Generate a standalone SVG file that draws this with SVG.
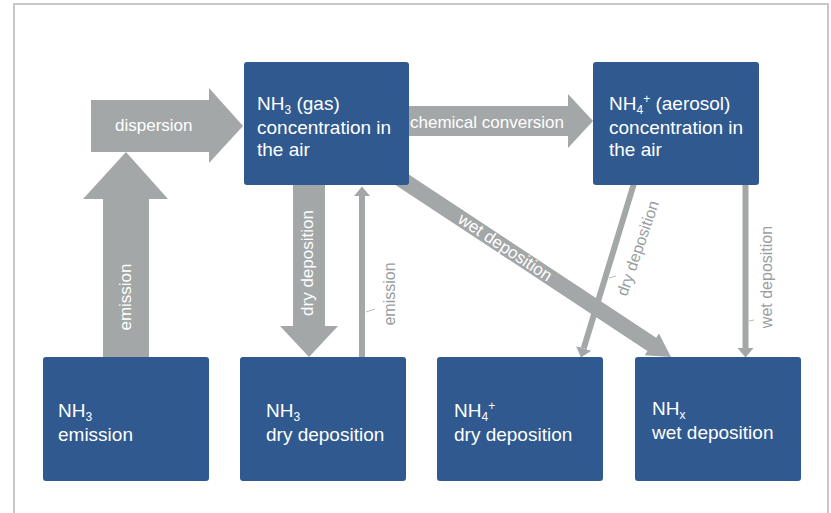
<svg xmlns="http://www.w3.org/2000/svg" width="831" height="513" viewBox="0 0 831 513">
  <style>
    .box { fill: #2f598f; }
    .boxtxt { font-family: "Liberation Sans", Arial, sans-serif; font-size: 19px; fill: #ffffff; }
    .sub { font-size: 12px; }
    .arr { fill: #a3a7a8; }
    .thin { stroke: #a3a7a8; stroke-width: 6; fill: none; }
    .tick { stroke: #b8bbbc; stroke-width: 1; fill: none; }
    .lbl { font-family: "Liberation Sans", Arial, sans-serif; font-size: 17px; fill: #ffffff; }
    .glbl { font-family: "Liberation Sans", Arial, sans-serif; font-size: 16px; fill: #9a9ea0; }
  </style>
  <defs>
    <marker id="head" markerUnits="userSpaceOnUse" markerWidth="12" markerHeight="18" refX="0" refY="8" orient="auto" viewBox="0 0 12 16">
      <path d="M0,0 L9.5,8 L0,16 Z" fill="#a3a7a8"/>
    </marker>
  </defs>
  <rect x="0" y="0" width="831" height="513" fill="#ffffff"/>
  <rect x="14" y="4" width="814" height="540" fill="none" stroke="#c8c8c8" stroke-width="2"/>

  <g id="connectors">
    <!-- dispersion -->
    <polygon class="arr" points="91,100 209,100 209,88 243,126 209,163 209,152 91,152"/>
    <text class="lbl" x="115" y="131">dispersion</text>
    <!-- big emission up -->
    <polygon class="arr" points="103,357 103,199 83,199 126,152 168,199 149,199 149,357"/>
    <text class="lbl" transform="translate(131,297) rotate(-90)" text-anchor="middle">emission</text>
    <!-- dry deposition thick down -->
    <polygon class="arr" points="293,180 325,180 325,326 338,326 309,357 280,326 293,326"/>
    <text class="lbl" font-size="16" transform="translate(313,263) rotate(-90)" text-anchor="middle">dry deposition</text>
    <!-- chemical conversion -->
    <polygon class="arr" points="405,106 568,106 568,94 593,121 568,148 568,136 405,136"/>
    <text class="lbl" x="410" y="128" font-size="17.5">chemical conversion</text>
    <!-- thin emission up -->
    <line class="thin" x1="362" y1="357" x2="362" y2="196" marker-end="url(#head)"/>
    <line class="tick" x1="366" y1="312" x2="375" y2="309"/>
    <text class="glbl" font-size="17" transform="translate(395,294) rotate(-90)" text-anchor="middle">emission</text>
    <!-- NH4 dry deposition diagonal thin -->
    <line class="thin" x1="635" y1="180" x2="583.7" y2="348.4" marker-end="url(#head)"/>
    <line class="tick" x1="609" y1="278" x2="616" y2="276"/>
    <text class="glbl" transform="translate(643,250) rotate(-71)" text-anchor="middle">dry deposition</text>
    <!-- NH4 wet deposition vertical thin -->
    <line class="thin" x1="745.5" y1="180" x2="745.5" y2="348" marker-end="url(#head)"/>
    <line class="tick" x1="749" y1="321" x2="754" y2="320"/>
    <text class="glbl" transform="translate(772,277) rotate(-90)" text-anchor="middle">wet deposition</text>
    <!-- wet deposition thick diagonal -->
    <g transform="translate(398,177) rotate(33.4)">
      <polygon class="arr" points="0,-8 304,-8 304,-13 327,0 304,13 304,8 0,8"/>
    </g>
    <text class="lbl" font-size="16" transform="translate(502,252) rotate(33.4)" text-anchor="middle">wet deposition</text>
  </g>

  <g id="nh3-gas">
    <rect class="box" x="244" y="62" width="165" height="123" rx="3"/>
    <text class="boxtxt" x="257" y="110">NH<tspan class="sub" dy="3.5">3</tspan><tspan dy="-3.5"> (gas)</tspan><tspan x="257" y="134">concentration in</tspan><tspan x="257" y="156">the air</tspan></text>
  </g>
  <g id="nh4-aerosol">
    <rect class="box" x="593" y="62" width="166" height="123" rx="3"/>
    <text class="boxtxt" x="609" y="110">NH<tspan class="sub" dy="3.5">4</tspan><tspan class="sub" dy="-10.5">+</tspan><tspan dy="7"> (aerosol)</tspan><tspan x="609" y="134">concentration in</tspan><tspan x="609" y="156">the air</tspan></text>
  </g>
  <g id="nh3-emission">
    <rect class="box" x="43" y="357" width="166" height="124" rx="3"/>
    <text class="boxtxt" x="58" y="417">NH<tspan class="sub" dy="3.5">3</tspan><tspan x="58" y="441">emission</tspan></text>
  </g>
  <g id="nh3-dry">
    <rect class="box" x="240" y="357" width="166" height="124" rx="3"/>
    <text class="boxtxt" x="266" y="417">NH<tspan class="sub" dy="3.5">3</tspan><tspan x="266" y="441">dry deposition</tspan></text>
  </g>
  <g id="nh4-dry">
    <rect class="box" x="437" y="357" width="166" height="124" rx="3"/>
    <text class="boxtxt" x="454" y="417">NH<tspan class="sub" dy="3.5">4</tspan><tspan class="sub" dy="-10.5">+</tspan><tspan x="454" y="441">dry deposition</tspan></text>
  </g>
  <g id="nhx-wet">
    <rect class="box" x="635" y="357" width="166" height="124" rx="3"/>
    <text class="boxtxt" x="652" y="415">NH<tspan class="sub" dy="3.5">x</tspan><tspan x="652" y="439">wet deposition</tspan></text>
  </g>
</svg>
